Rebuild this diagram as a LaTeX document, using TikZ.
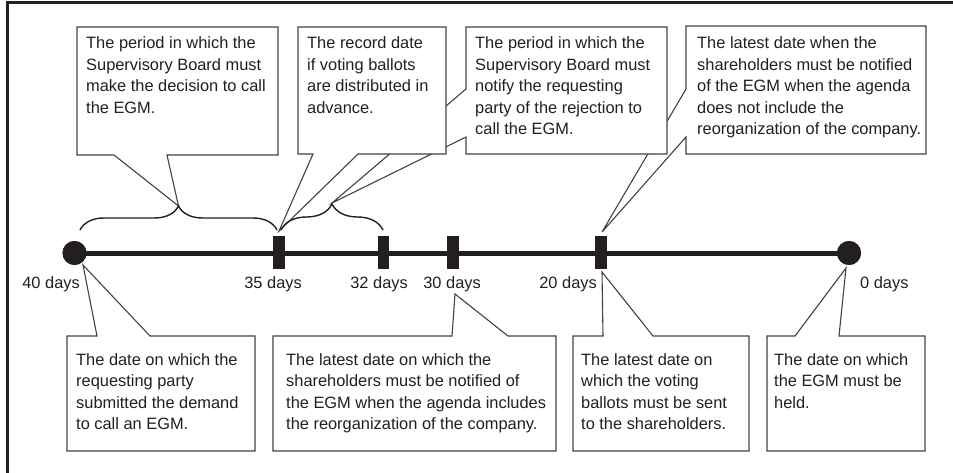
\documentclass[tikz,border=0pt]{standalone}
\usepackage{fontspec}
\setmainfont{Liberation Sans}
\usetikzlibrary{decorations.pathreplacing,calc}
\definecolor{ink}{HTML}{231F20}
\tikzset{
  frameline/.style={draw=ink,line width=3pt},
  axis/.style={draw=ink,line width=5pt},
  endpt/.style={circle,fill=ink,draw=none,minimum size=24pt,inner sep=0pt},
  tickbox/.style={rectangle,fill=ink,draw=none,minimum width=11.5pt,minimum height=33pt,inner sep=0pt},
  daylbl/.style={inner sep=0pt,font=\fontsize{16.4}{21.5}\selectfont,text=ink},
  callout/.style={draw=ink!85,line width=1.1pt,fill=white,line join=miter},
  txt/.style={inner sep=0pt,align=left,anchor=base west,text=ink,font=\fontsize{16.4}{21.5}\selectfont},
  bracest/.style={draw=ink,line width=1.4pt,decorate,decoration={brace,amplitude=#1}},
}
\begin{document}
\begin{tikzpicture}[x=1pt,y=-1pt]
\useasboundingbox (0,0) rectangle (953,473);
% frame
\coordinate (fTL) at (7,2.5);
\coordinate (fTR) at (953,2.5);
\coordinate (fBL) at (7,473);
\draw[frameline] (fBL) -- (fTL) -- (fTR);
% tip coordinates
\coordinate (tipA) at (178.5,206);
\coordinate (tipB) at (279,231);
\coordinate (tipC) at (332,203);
\coordinate (tipD) at (602,232);
\coordinate (tipE) at (83,265);
\coordinate (tipF) at (455,294);
\coordinate (tipG) at (602,272);
\coordinate (tipH) at (846,268);
% callout D
\draw[callout] (686,26) -- (926,26) -- (926,154) -- (686,154) -- (686,137) -- (tipD) -- (686,89) -- cycle;
\node[txt] (tD) at (697,135) {The latest date when the\\shareholders must be notified\\of the EGM when the agenda\\does not include the\\reorganization of the company.};
% callout C
\draw[callout] (466,27) -- (667,27) -- (667,154) -- (466,154) -- (466,137) -- (tipC) -- (466,89) -- cycle;
\node[txt] (tC) at (475,135) {The period in which the\\Supervisory Board must\\notify the requesting\\party of the rejection to\\call the EGM.};
% callout B
\draw[callout] (298,27) -- (446,27) -- (446,154) -- (358,154) -- (tipB) -- (313,154) -- (298,154) -- cycle;
\node[txt] (tB) at (307,113.5) {The record date\\if voting ballots\\are distributed in\\advance.};
% callout A
\draw[callout] (77,27) -- (278,27) -- (278,155) -- (167,155) -- (tipA) -- (114,155) -- (77,155) -- cycle;
\node[txt] (tA) at (86,113.5) {The period in which the\\Supervisory Board must\\make the decision to call\\the EGM.};
% bottom callouts
\draw[callout] (67,336) -- (97,336) -- (tipE) -- (150,336) -- (255,336) -- (255,451) -- (67,451) -- cycle;
\node[txt] (tE) at (76,429.5) {The date on which the\\requesting party\\submitted the demand\\to call an EGM.};
\draw[callout] (273,336) -- (452,336) -- (tipF) -- (508,336) -- (556,336) -- (556,451) -- (273,451) -- cycle;
\node[txt] (tF) at (286,429.5) {The latest date on which the\\shareholders must be notified of\\the EGM when the agenda includes\\the reorganization of the company.};
\draw[callout] (573,336) -- (603,336) -- (tipG) -- (653,336) -- (749,336) -- (749,451) -- (573,451) -- cycle;
\node[txt] (tG) at (581,429.5) {The latest date on\\which the voting\\ballots must be sent\\to the shareholders.};
\draw[callout] (767,336) -- (795,336) -- (tipH) -- (839,336) -- (925,336) -- (925,451) -- (767,451) -- cycle;
\node[txt] (tH) at (774,408) {The date on which\\the EGM must be\\held.};
% timeline
\node[endpt] (d40) at (74.5,253) {};
\node[endpt] (d0) at (849,253) {};
\draw[axis] (d40.center) -- (d0.center);
\node[endpt] at (d40) {};
\node[endpt] at (d0) {};
\node[tickbox] (t35) at (279,252.5) {};
\node[tickbox] (t32) at (383.5,252.5) {};
\node[tickbox] (t30) at (453,252.5) {};
\node[tickbox] (t20) at (601,252.5) {};
% braces
\coordinate (b1s) at (80,230);
\coordinate (b1e) at (277,230);
\coordinate (b2s) at (281,230);
\coordinate (b2e) at (383,230);
\draw[bracest=24pt] (b1s) -- (b1e);
\draw[bracest=26pt] (b2s) -- (b2e);
% day labels
\node[daylbl,anchor=base east] (l40) at (80,288) {40 days};
\node[daylbl,anchor=base east] (l35) at (302,288) {35 days};
\node[daylbl,anchor=base east] (l32) at (408,288) {32 days};
\node[daylbl,anchor=base east] (l30) at (481,288) {30 days};
\node[daylbl,anchor=base east] (l20) at (597,288) {20 days};
\node[daylbl,anchor=base west] (l0) at (860,288) {0 days};
\end{tikzpicture}
\end{document}
